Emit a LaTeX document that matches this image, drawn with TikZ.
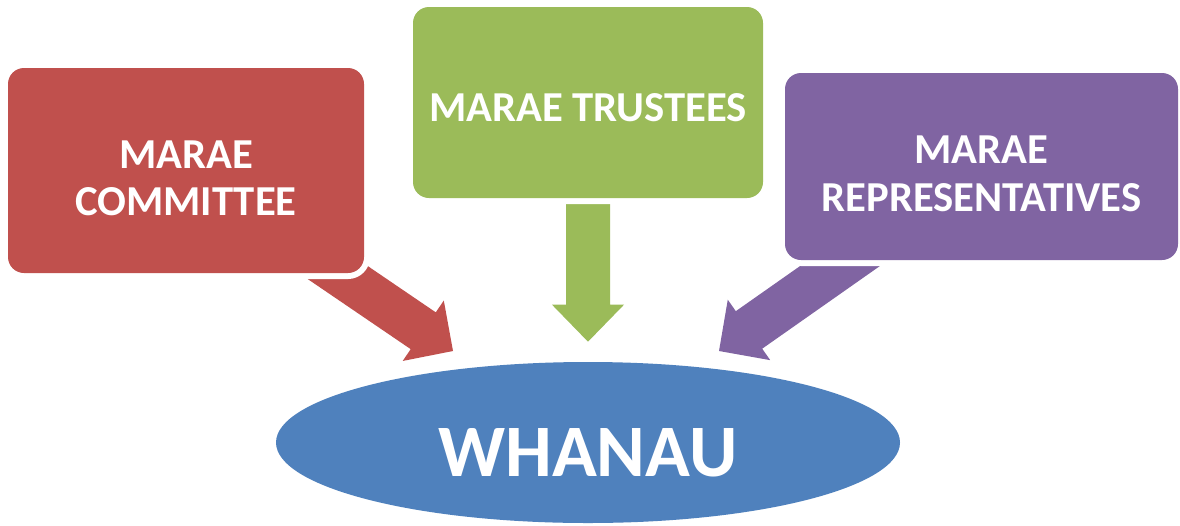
\documentclass[tikz,border=0pt]{standalone}
\usepackage{fontspec}
\setmainfont{Carlito}
\usetikzlibrary{calc,shapes.geometric}
\definecolor{cred}{HTML}{C0504D}
\definecolor{cgreen}{HTML}{9BBB59}
\definecolor{cpurple}{HTML}{8064A2}
\definecolor{cblue}{HTML}{4F81BD}
% start, tip, shaft half width, head half width, head length, colour
\newcommand{\blockarrow}[6]{%
  \coordinate (hb) at ($(#2)!#5!(#1)$);
  \fill[#6] ($(#1)!#3!90:(#2)$) -- ($(hb)!#3!-90:(#1)$) -- ($(hb)!#4!-90:(#1)$)
    -- (#2) -- ($(hb)!#4!90:(#1)$) -- ($(hb)!#3!90:(#1)$) -- ($(#1)!#3!-90:(#2)$) -- cycle;
}
\tikzset{
  box/.style={rectangle, rounded corners=12pt, inner sep=0pt, outer sep=0pt,
    preaction={draw=white, line width=9pt}, align=center, text=white,
    font=\fontsize{32}{35.6}\selectfont\bfseries},
  blob/.style={ellipse, inner sep=0pt, outer sep=0pt, text=white,
    preaction={draw=white, line width=4pt},
    font=\fontsize{55.5}{60}\selectfont\bfseries},
}
\begin{document}
\begin{tikzpicture}[x=0.75pt, y=-0.75pt]
\useasboundingbox (0,0) rectangle (1180,525);
% arrows (drawn below the boxes)
\coordinate (rs) at (302.4,248.5);
\coordinate (rt) at (453,351);
\coordinate (gs) at (588,204);
\coordinate (gt) at (588,341.7);
\coordinate (ps) at (891.7,229.7);
\coordinate (pt) at (719,351);
\blockarrow{rs}{rt}{16.7pt}{27.4pt}{27pt}{cred}
\blockarrow{gs}{gt}{16.5pt}{27pt}{27.75pt}{cgreen}
\blockarrow{ps}{pt}{17.2pt}{27.7pt}{27.5pt}{cpurple}
% boxes
\node[box, fill=cred, minimum width=267pt, minimum height=153.75pt,
  text height=67.6pt, text depth=0pt] (committee)
  at (186,170.5) {MARAE\\COMMITTEE};
\node[box, fill=cgreen, minimum width=262.5pt, minimum height=143.25pt,
  text height=28.4pt, text depth=0pt] (trustees)
  at (588,102.5) {MARAE TRUSTEES};
\node[box, fill=cpurple, minimum width=294.75pt, minimum height=140.25pt,
  text height=67pt, text depth=0pt] (reps)
  at (981.5,166.5) {MARAE\\REPRESENTATIVES};
\node[blob, fill=cblue, minimum width=468pt, minimum height=120.75pt,
  text height=51.5pt, text depth=0pt] (whanau)
  at (588,442.5) {WHANAU};
\end{tikzpicture}
\end{document}
